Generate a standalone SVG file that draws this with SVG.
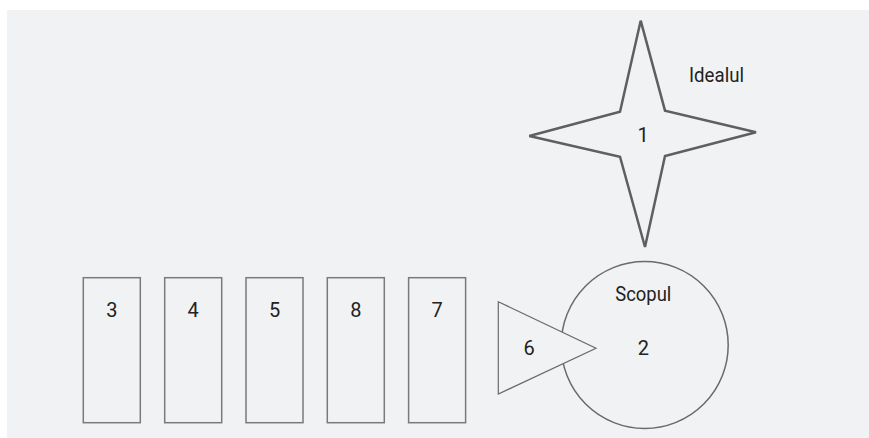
<svg xmlns="http://www.w3.org/2000/svg" width="869" height="438" viewBox="0 0 869 438">
<style>
.bg{fill:#f1f2f4}
.box{fill:#f1f2f4;stroke:#7a7a7a;stroke-width:1.5}
.star{fill:#f1f2f4;stroke:#5f5f5f;stroke-width:2.5;stroke-linejoin:miter}
.circ{fill:#f1f2f4;stroke:#6a6a6a;stroke-width:1.5}
.tri{fill:#f1f2f4;stroke:#6a6a6a;stroke-width:1.2}
text{font-family:Roboto,"Liberation Sans",sans-serif;font-size:20px;fill:#222;text-anchor:middle}
</style>
<rect x="0" y="0" width="869" height="438" fill="#ffffff"/>
<rect class="bg" x="7" y="10" width="862" height="428"/>
<g id="connectors"></g>
<g id="n1">
<polygon class="star" points="640.7,20.7 665,110.7 756,132.3 665,156 645,247 620,156.7 529.3,136 620,111.7"/>
<text x="643" y="141.5">1</text>
</g>
<g id="idealul"><text x="716.5" y="81.5" textLength="55" lengthAdjust="spacingAndGlyphs">Idealul</text></g>
<g id="n2">
<circle class="circ" cx="644.7" cy="345" r="83.5"/>
<text x="643.3" y="300.5" textLength="56" lengthAdjust="spacingAndGlyphs">Scopul</text>
<text x="643.3" y="354.5">2</text>
</g>
<g id="n6">
<polygon class="tri" points="498.3,301.7 596,348.3 498.3,394"/>
<text x="529" y="354.5">6</text>
</g>
<g id="n3"><rect class="box" x="83.3" y="277.7" width="57" height="145"/><text x="111.8" y="316.5">3</text></g>
<g id="n4"><rect class="box" x="164.7" y="277.7" width="57" height="145"/><text x="193.2" y="316.5">4</text></g>
<g id="n5"><rect class="box" x="246" y="277.7" width="57" height="145"/><text x="274.5" y="316.5">5</text></g>
<g id="n8"><rect class="box" x="327.3" y="277.7" width="57" height="145"/><text x="355.8" y="316.5">8</text></g>
<g id="n7"><rect class="box" x="408.6" y="277.7" width="57" height="145"/><text x="437.1" y="316.5">7</text></g>
</svg>
